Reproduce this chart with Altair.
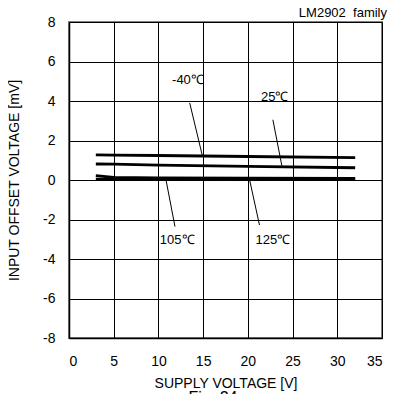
import altair as alt
import pandas as pd

# Supply voltage points [V]
volt = [3, 5, 10, 20, 32]
# Input offset voltage [mV] per temperature
vos_m40 = [1.27, 1.26, 1.24, 1.19, 1.13]
vos_25 = [0.81, 0.80, 0.75, 0.69, 0.62]
vos_105 = [0.22, 0.13, 0.11, 0.10, 0.08]
vos_125 = [0.04, 0.04, 0.05, 0.05, 0.05]
temps = ["-40℃", "25℃", "105℃", "125℃"]

# annotation labels and leader lines
label_x = [13.3, 23.0, 12.1, 22.8]
label_y = [5.06, 4.2, -3.04, -3.04]
lead_x1 = [13.5, 22.8, 10.85, 20.2]
lead_y1 = [3.9, 3.05, 0.0, 0.0]
lead_x2 = [14.9, 23.8, 11.85, 21.3]
lead_y2 = [1.25, 0.72, -2.36, -2.28]

x_ticks = [0, 5, 10, 15, 20, 25, 30, 35]
y_ticks = [-8, -6, -4, -2, 0, 2, 4, 6, 8]

rows = []
for t, vals in zip(temps, [vos_m40, vos_25, vos_105, vos_125]):
    for v, o in zip(volt, vals):
        rows.append({"temp": t, "volt": v, "vos": o})
df = pd.DataFrame(rows)
ann = pd.DataFrame({"temp": temps, "lx": label_x, "ly": label_y,
                    "x1": lead_x1, "y1": lead_y1, "x2": lead_x2, "y2": lead_y2})

FONT = "Liberation Sans"
xs = alt.Scale(domain=[0, 35], nice=False)
ys = alt.Scale(domain=[-8, 8], nice=False)
XT = "SUPPLY VOLTAGE [V]"
YT = "INPUT OFFSET VOLTAGE [mV]"
xa = alt.Axis(values=x_ticks, labelPadding=16, titlePadding=8,
              labelExpr="datum.value + ''", labelOverlap=False)
ya = alt.Axis(values=y_ticks, labelPadding=14, titlePadding=21,
              labelExpr="datum.value + ''", labelOverlap=False)

lines = alt.Chart(df).mark_line(color="black", strokeWidth=2.8).encode(
    x=alt.X("volt:Q", scale=xs, title=XT, axis=xa),
    y=alt.Y("vos:Q", scale=ys, title=YT, axis=ya),
    detail="temp:N",
)

leaders = alt.Chart(ann).mark_rule(color="black", strokeWidth=1).encode(
    x=alt.X("x1:Q", scale=xs, title=XT, axis=xa),
    y=alt.Y("y1:Q", scale=ys, title=YT, axis=ya),
    x2="x2:Q", y2="y2:Q",
)

labels = alt.Chart(ann).mark_text(font=FONT, fontSize=13, color="black").encode(
    x=alt.X("lx:Q", scale=xs, title=XT, axis=xa),
    y=alt.Y("ly:Q", scale=ys, title=YT, axis=ya),
    text="temp:N",
)

family = alt.Chart(pd.DataFrame({"t": ["LM2902\u00a0\u00a0family"]})).mark_text(
    font=FONT, fontSize=13, color="black", align="right", baseline="middle"
).encode(x=alt.value(318), y=alt.value(-9), text="t:N")

fig = alt.Chart(pd.DataFrame({"t": ["Fig. 24"]})).mark_text(
    font=FONT, fontSize=16, color="black", align="center", baseline="alphabetic"
).encode(x=alt.value(144), y=alt.value(381), text="t:N")

chart = alt.layer(lines, leaders, labels, family, fig).properties(
    width=313, height=316,
    autosize=alt.AutoSizeParams(type="none"),
    padding={"left": 61, "top": 14, "right": 20, "bottom": 70},
).configure_view(
    stroke="#808080", strokeWidth=2
).configure_axis(
    labelFont=FONT, titleFont=FONT, labelFontSize=14, titleFontSize=14,
    titleFontWeight="normal", labelColor="black", titleColor="black",
    grid=True, gridColor="black", gridWidth=1, gridOpacity=1,
    ticks=False, tickSize=0, domain=True, domainColor="black", domainWidth=1.5,
)

chart.save("out.html", embed_options={"renderer": "svg", "actions": False})
